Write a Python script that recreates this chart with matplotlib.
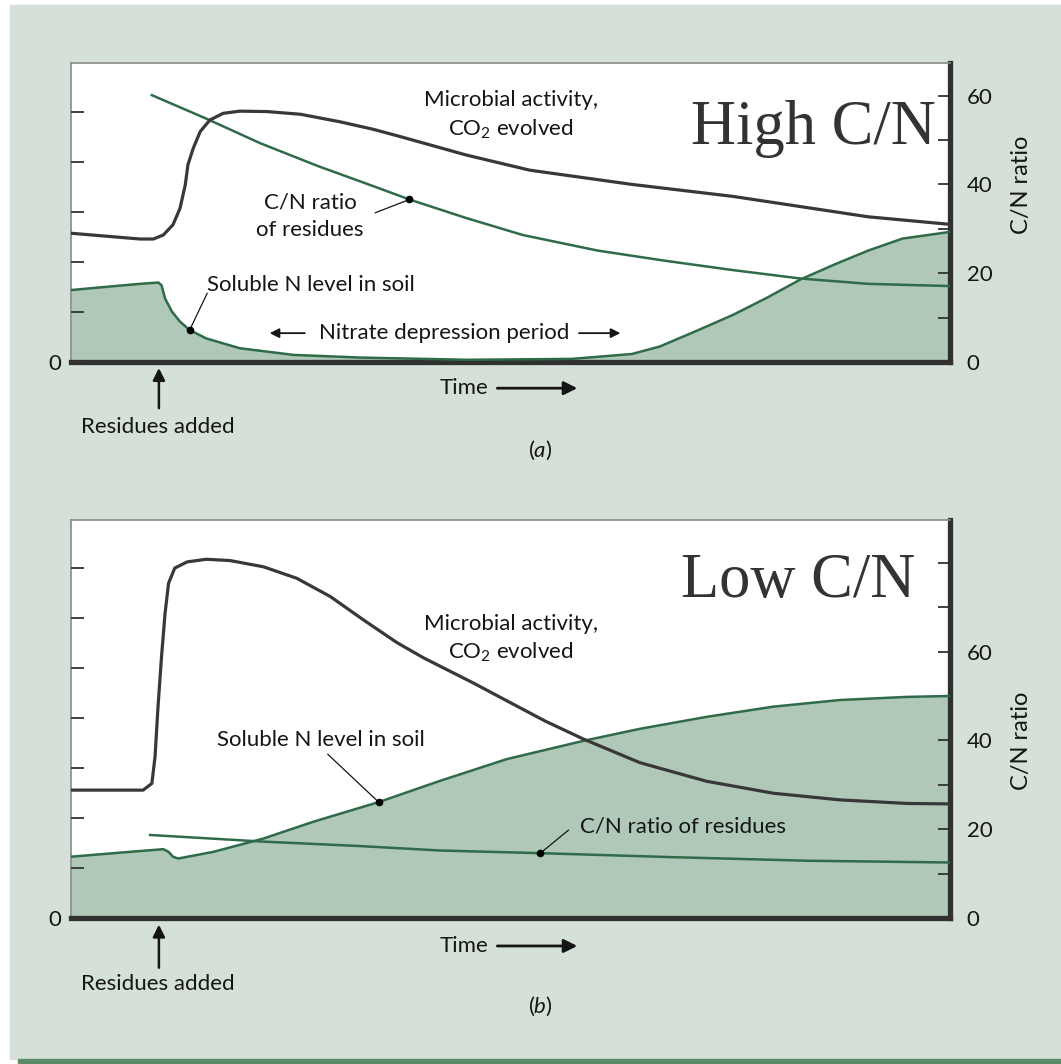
import numpy as np
import matplotlib.pyplot as plt
from matplotlib.patches import Rectangle

plt.rcParams['font.family'] = ['Lato', 'DejaVu Sans']
plt.rcParams['mathtext.fontset'] = 'custom'
plt.rcParams['mathtext.rm'] = 'Lato'
plt.rcParams['mathtext.it'] = 'Lato:italic'

# ---- data (time 0-100, values in C/N-ratio units) ----
# (a) high C/N residues
t_act_a = [0, 7.85, 9.36, 10.5, 11.6, 12.4, 13.0, 13.3, 13.9, 14.7, 15.8, 17.3, 19.2,
           22.3, 26.1, 30.6, 34.4, 37.4, 45.0, 52.2, 63.8, 75.3, 83.0, 90.7, 100]
act_a = [29.0, 27.7, 27.7, 28.6, 30.9, 34.6, 39.9, 44.4, 48.1, 51.9, 54.5, 56.0, 56.5,
         56.4, 55.8, 54.1, 52.4, 50.8, 46.6, 43.2, 40.0, 37.3, 35.0, 32.7, 31.0]
t_cn_a = [9.2, 15.4, 21.5, 28.0, 34.4, 38.5, 45.0, 51.4, 59.9, 67.6, 75.3, 83.0, 90.7, 100]
cn_a = [60.1, 54.8, 49.3, 44.2, 39.6, 36.6, 32.4, 28.6, 25.1, 22.8, 20.7, 18.8, 17.6, 17.1]
t_n_a = [0, 4.4, 7.85, 9.93, 10.3, 10.7, 11.5, 12.4, 13.5, 15.4, 19.2, 25.3, 32.9,
         45.0, 57.0, 63.8, 67.0, 71.5, 75.3, 79.2, 83.0, 86.9, 90.7, 94.6, 100]
n_a = [16.2, 17.0, 17.6, 17.9, 17.3, 14.3, 11.3, 9.1, 7.2, 5.3, 3.1, 1.6, 1.0,
       0.5, 0.7, 1.8, 3.5, 7.3, 10.6, 14.5, 18.6, 22.0, 25.1, 27.8, 29.3]

# (b) low C/N residues
t_act_b = [0, 8.2, 9.2, 9.56, 9.9, 10.3, 10.7, 11.1, 11.8, 13.2, 15.4, 18.1, 21.9,
           25.7, 29.5, 33.3, 37.1, 40.1, 45.8, 49.6, 54.0, 58.3, 64.7, 72.3, 79.9,
           87.5, 95.1, 100]
act_b = [28.8, 28.8, 30.3, 36.3, 47.6, 58.9, 68.6, 75.4, 78.8, 80.2, 80.8, 80.5, 79.1,
         76.5, 72.4, 67.1, 62.0, 58.6, 52.9, 48.9, 44.3, 40.3, 35.0, 30.8, 28.1,
         26.6, 25.8, 25.7]
t_cn_b = [9.0, 21.9, 32.9, 42.0, 53.4, 68.5, 83.7, 100]
cn_b = [18.7, 17.2, 16.2, 15.2, 14.6, 13.7, 12.9, 12.5]
t_n_b = [0, 6.7, 10.5, 11.1, 11.6, 12.2, 16.2, 21.9, 27.6, 35.0, 42.0, 49.6,
         58.3, 64.7, 72.3, 79.9, 87.5, 95.1, 100]
n_b = [13.8, 14.9, 15.5, 14.9, 13.8, 13.4, 14.9, 17.9, 21.7, 26.1, 30.9, 35.8,
       39.9, 42.6, 45.3, 47.6, 49.1, 49.8, 50.0]

right_labels = ['0', '20', '40', '60']

BG = '#d5e1d8'
FILL = '#b0c8b8'
GREEN = '#2f6b48'
DARK = '#383838'
INK = '#151515'
FS = 16

W, H = 1061, 1064
fig = plt.figure(figsize=(W / 100, H / 100), dpi=100)
fig.patch.set_facecolor('white')
fig.patches.append(Rectangle((10 / W, 1 - 1059 / H), (W - 10) / W, 1054 / H,
                             transform=fig.transFigure, color=BG, zorder=-5))
fig.patches.append(Rectangle((18 / W, 0), (W - 18) / W, 5 / H,
                             transform=fig.transFigure, color='#5b8a69', zorder=-5))

PX = 4.44    # pixels per C/N unit
LPX = 50.0   # pixels per left-axis step


def make_panel(top, bottom, minor, n_left):
    ax = fig.add_axes([71 / W, 1 - bottom / H, 879 / W, (bottom - top) / H])
    ax.set_facecolor('white')
    ax.set_xlim(0, 100)
    ax.set_ylim(0, (bottom - top) / PX)
    ax.set_xticks([])

    # left-hand scale (unlabelled except 0)
    axl = ax.twinx()
    axl.yaxis.tick_left()
    axl.set_ylim(0, (bottom - top) / LPX)
    axl.set_yticks(range(n_left + 1))
    axl.set_yticklabels(['0'] + [''] * n_left)
    axl.tick_params(axis='y', direction='in', length=9, width=1.3,
                    color='#333333', pad=7, labelsize=FS, labelcolor=INK)
    for s in axl.spines.values():
        s.set_visible(False)

    # right-hand C/N scale
    ax.yaxis.tick_right()
    ax.set_yticks([0, 20, 40, 60])
    ax.set_yticklabels(right_labels)
    ax.set_yticks(minor, minor=True)
    ax.tick_params(axis='y', which='both', direction='in', length=9, width=1.3,
                   color='#333333', pad=12, labelsize=FS, labelcolor=INK,
                   left=False, labelleft=False, right=True, labelright=True)
    for s in ['left', 'top']:
        ax.spines[s].set_color('#8a8a8a')
        ax.spines[s].set_linewidth(1.2)
    for s in ['right', 'bottom']:
        ax.spines[s].set_color('#303030')
        ax.spines[s].set_linewidth(3.8)
    ax.text(108.1, 40, 'C/N ratio', rotation=90, ha='center', va='center',
            fontsize=17, color=INK, clip_on=False)
    return ax


def arrow(ax, tail, head, lw=1.6, ms=18):
    ax.annotate('', xy=head, xytext=tail, annotation_clip=False,
                arrowprops=dict(arrowstyle='-|>', color=INK, lw=lw,
                                mutation_scale=ms, shrinkA=0, shrinkB=0))


def leader(ax, start, end):
    ax.annotate('', xy=end, xytext=start,
                arrowprops=dict(arrowstyle='-', color=INK, lw=0.9,
                                shrinkA=0, shrinkB=0))
    ax.plot(*end, 'o', color='black', ms=4.5, zorder=6)


def label(ax, x, y, s, **kw):
    ax.text(x, y, s, ha='center', va='center', fontsize=FS, color=INK,
            clip_on=False, **kw)


def bottom_labels(ax, y_time, y_up, y_res, y_lab, lab):
    label(ax, 44.7, y_time, 'Time')
    arrow(ax, (48.5, y_time), (57.6, y_time), lw=2.0, ms=20)
    arrow(ax, (10.0, y_up[0]), (10.0, y_up[1]), lw=1.8, ms=18)
    label(ax, 9.9, y_res, 'Residues added')
    label(ax, 53.4, y_lab, lab)


# ---------------- panel (a) ----------------
ax = make_panel(63, 362, [10, 30, 50], 5)
ax.fill_between(t_n_a, n_a, 0, color=FILL, lw=0, zorder=1)
ax.plot(t_n_a, n_a, color=GREEN, lw=1.8, zorder=3)
ax.plot(t_cn_a, cn_a, color=GREEN, lw=1.8, zorder=3)
ax.plot(t_act_a, act_a, color=DARK, lw=2.3, zorder=4)

label(ax, 50, 59.0, 'Microbial activity,')
label(ax, 50, 52.3, 'CO$_2$ evolved')
ax.text(98.4, 49.1, 'High C/N', ha='right', va='baseline', fontsize=45,
        family='Liberation Serif', color='#333333')
label(ax, 27.2, 36.0, 'C/N ratio')
label(ax, 27.2, 29.7, 'of residues')
leader(ax, (34.6, 33.6), (t_cn_a[5], cn_a[5]))
label(ax, 27.3, 17.3, 'Soluble N level in soil')
leader(ax, (15.5, 15.5), (t_n_a[8], n_a[8]))
label(ax, 42.4, 6.5, 'Nitrate depression period')
arrow(ax, (26.6, 6.5), (22.6, 6.5), lw=1.3, ms=14)
arrow(ax, (57.8, 6.5), (62.5, 6.5), lw=1.3, ms=14)
bottom_labels(ax, -5.9, (-10.4, -1.35), -14.6, -19.8, '($\\it{a}$)')

# ---------------- panel (b) ----------------
ax = make_panel(520, 918, [10, 30, 50, 70, 80], 7)
ax.fill_between(t_n_b, n_b, 0, color=FILL, lw=0, zorder=1)
ax.plot(t_n_b, n_b, color=GREEN, lw=1.8, zorder=3)
ax.plot(t_cn_b, cn_b, color=GREEN, lw=1.8, zorder=3)
ax.plot(t_act_b, act_b, color=DARK, lw=2.3, zorder=4)

label(ax, 50, 66.2, 'Microbial activity,')
label(ax, 50, 59.8, 'CO$_2$ evolved')
ax.text(96.1, 72.4, 'Low C/N', ha='right', va='baseline', fontsize=45,
        family='Liberation Serif', color='#333333')
label(ax, 28.4, 40.2, 'Soluble N level in soil')
leader(ax, (29.2, 36.9), (t_n_b[9], n_b[9]))
label(ax, 69.6, 20.7, 'C/N ratio of residues')
leader(ax, (56.6, 19.8), (t_cn_b[4], cn_b[4]))
bottom_labels(ax, -6.3, (-11.2, -1.5), -14.9, -19.8, '($\\it{b}$)')

fig.savefig('out.png', dpi=100)
